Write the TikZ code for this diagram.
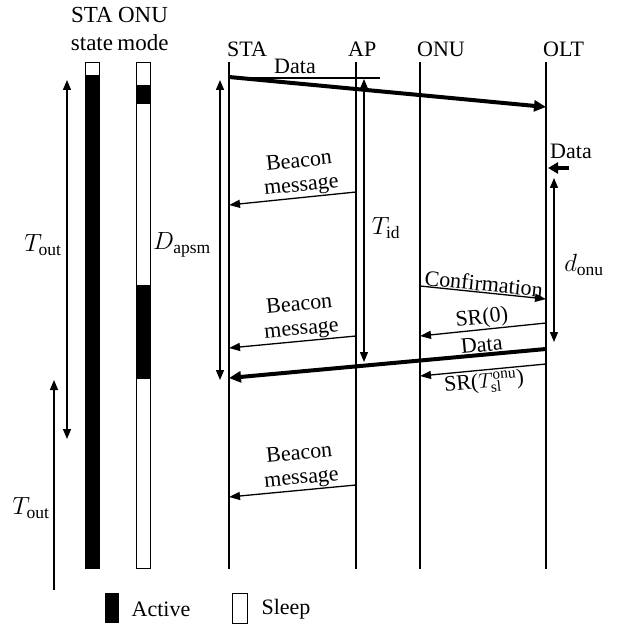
\documentclass[tikz,border=0pt]{standalone}
\usepackage{fontspec}
\setmainfont{Liberation Serif}
\setmathrm{Liberation Serif}
\usetikzlibrary{arrows.meta}
\begin{document}
\begin{tikzpicture}[x=1pt,y=-1pt,
  txt/.style={font=\fontsize{22}{24}\selectfont, inner sep=1pt},
  mtxt/.style={font=\fontsize{25}{26}\selectfont, inner sep=1pt},
  life/.style={line width=1.4pt},
  msg/.style={line width=1.3pt,-{Triangle[length=11pt,width=8pt]}},
  thickmsg/.style={line width=4pt,-{Triangle[length=12pt,width=11pt]}},
  dim/.style={line width=1.3pt,{Triangle[length=10pt,width=8pt]}-{Triangle[length=10pt,width=8pt]}},
  dimup/.style={line width=1.3pt,-{Triangle[length=10pt,width=8pt]}},
  bar/.style={draw,line width=0.8pt,fill=white}
]
\useasboundingbox (0,0) rectangle (624,628);

% headers
\node[font=\fontsize{23}{28}\selectfont,inner sep=1pt,align=center] (hsta) at (92,29) {STA\\state};
\node[font=\fontsize{23}{28}\selectfont,inner sep=1pt,align=center] (honu) at (143,29) {ONU\\mode};

% state bars
\draw[bar] (85,62) rectangle (99,568);
\fill[black] (85,75) rectangle (99,568);
\draw[bar] (136,62) rectangle (150,568);
\fill[black] (136,85) rectangle (150,104);
\fill[black] (136,285) rectangle (150,379);

% lifeline labels
\node[txt,anchor=west] (lsta) at (226,49) {STA};
\node[txt,anchor=west] (lap) at (347,49) {AP};
\node[txt,anchor=west] (lonu) at (416,49) {ONU};
\node[txt,anchor=west] (lolt) at (542,49) {OLT};

% lifelines
\coordinate (staT) at (229,62); \coordinate (staB) at (229,569);
\coordinate (apT) at (356,62);  \coordinate (apB) at (356,569);
\coordinate (onuT) at (420,62); \coordinate (onuB) at (420,569);
\coordinate (oltT) at (546,62); \coordinate (oltB) at (546,569);
\draw[life] (staT) -- (staB);
\draw[life] (apT) -- (apB);
\draw[life] (onuT) -- (onuB);
\draw[life] (oltT) -- (oltB);

% dimension arrows
\coordinate (to1a) at (67,80); \coordinate (to1b) at (67,439);
\draw[dim] (to1a) -- (to1b);
\node[mtxt] (lto1) at (43,245) {$T_{\mathrm{out}}$};
\coordinate (to2a) at (54,590); \coordinate (to2b) at (54,380);
\draw[dimup] (to2a) -- (to2b);
\node[mtxt] (lto2) at (31,508) {$T_{\mathrm{out}}$};
\coordinate (dapa) at (220,80); \coordinate (dapb) at (220,380);
\draw[dim] (dapa) -- (dapb);
\node[mtxt] (ldap) at (182,245) {$D_{\mathrm{apsm}}$};
\coordinate (tida) at (364,79); \coordinate (tidb) at (364,362);
\draw[dim] (tida) -- (tidb);
\node[mtxt] (ltid) at (386,228) {$T_{\mathrm{id}}$};
\coordinate (donua) at (554,178); \coordinate (donub) at (554,342);
\draw[dim] (donua) -- (donub);
\node[mtxt] (ldonu) at (584,265) {$d_{\mathrm{onu}}$};

% top data
\coordinate (d1a) at (229,77); \coordinate (d1b) at (546,107);
\coordinate (thinA) at (229,78); \coordinate (thinB) at (380,78);
\draw[line width=1.2pt] (thinA) -- (thinB);
\draw[thickmsg] (d1a) -- (d1b);
\node[txt] (ld1) at (295,66) {Data};

% data into OLT
\coordinate (d2a) at (569,168); \coordinate (d2b) at (548,168);
\draw[line width=4pt,-{Triangle[length=10pt,width=11pt]}] (d2a) -- (d2b);
\node[txt] (ld2) at (571,151) {Data};

% beacons
\coordinate (b1a) at (356,192); \coordinate (b1b) at (229,205);
\draw[msg] (b1a) -- node[txt,sloped,above,align=center,pos=0.42]{Beacon\\message} (b1b);
\coordinate (b2a) at (356,336); \coordinate (b2b) at (229,348);
\draw[msg] (b2a) -- node[txt,sloped,above,align=center,pos=0.42]{Beacon\\message} (b2b);
\coordinate (b3a) at (356,485); \coordinate (b3b) at (229,497);
\draw[msg] (b3a) -- node[txt,sloped,above,align=center,pos=0.42]{Beacon\\message} (b3b);

% ONU-OLT exchange
\coordinate (ca) at (420,286); \coordinate (cb) at (546,299);
\draw[msg] (ca) -- node[txt,sloped,above,inner sep=0.5pt]{Confirmation} (cb);
\coordinate (sr0a) at (546,323); \coordinate (sr0b) at (420,336);
\draw[msg] (sr0a) -- node[txt,sloped,above,inner sep=0.5pt]{SR(0)} (sr0b);
\coordinate (d3a) at (546,349); \coordinate (d3b) at (229,378);
\draw[thickmsg] (d3a) -- node[txt,sloped,above,pos=0.2,inner sep=1pt]{Data} (d3b);
\coordinate (srta) at (546,364); \coordinate (srtb) at (420,376);
\draw[msg] (srta) -- node[txt,sloped,below,inner sep=2pt]{SR($T_{\mathrm{sl}}^{\mathrm{onu}}$)} (srtb);

% legend
\fill[black] (105,593) rectangle (119,623);
\node[txt] (lact) at (161,609) {Active};
\draw[bar] (232,593) rectangle (247,623);
\node[txt] (lslp) at (286,609) {Sleep};
\end{tikzpicture}
\end{document}
